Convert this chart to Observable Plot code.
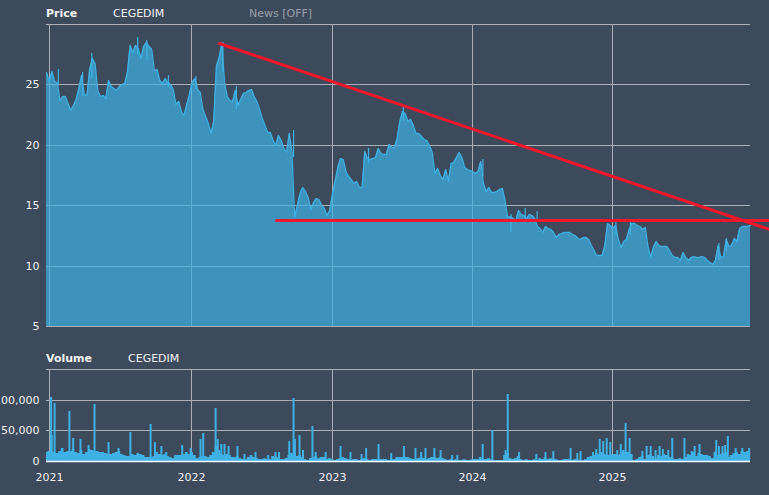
<!DOCTYPE html>
<html><head><meta charset="utf-8">
<script src="https://cdn.jsdelivr.net/npm/d3@7"></script>
<script src="https://cdn.jsdelivr.net/npm/@observablehq/plot@0.6"></script>
<style>
html,body{margin:0;padding:0;background:#3c4a5c;width:769px;height:495px;overflow:hidden}
#wrap{position:relative;width:769px;height:495px;font:11px "DejaVu Sans",sans-serif;color:#f2f2f2}
#wrap svg{display:block}
.t{position:absolute;white-space:nowrap;line-height:14px}
.b{font-weight:bold}
</style></head><body>
<div id="wrap">
<div id="p"></div><div id="v"></div>
<span class="t b" style="left:46px;top:7px">Price</span>
<span class="t" style="left:113px;top:7px">CEGEDIM</span>
<span class="t" style="left:249px;top:7px;color:#98a0a8">News [OFF]</span>
<span class="t b" style="left:46px;top:352px">Volume</span>
<span class="t" style="left:128px;top:352px">CEGEDIM</span>
</div>
<script>
const yearLabels=["2021","2022","2023","2024","2025"];
const yearWeeks=[1.1122,53.757,106.03,157.93,209.84];
const priceTicks=[5,10,15,20,25];
const priceGrid=[5,10,15,20,25,30];
const volumeTicks=[0,50000,100000];
const volumeGrid=[50000,100000,150000];
const priceValues=[
26.0,25.3,26.1,25.3,25.2,23.7,24.0,24.0,23.5,22.9,23.3,23.8,24.7,25.8,24.2,24.1,26.3,27.2,26.8,24.5,
24.0,24.1,23.9,25.4,24.9,24.7,24.5,24.9,25.0,25.1,26.0,28.3,27.7,28.3,28.0,27.2,28.2,28.5,28.2,27.9,
26.2,26.3,25.4,25.1,25.5,25.2,25.0,24.6,23.4,23.6,22.8,22.5,23.4,24.2,25.2,25.5,24.6,24.4,23.0,22.4,
21.8,21.0,22.0,26.5,27.3,28.4,25.2,24.0,23.7,23.6,24.5,23.3,23.8,24.3,24.4,24.5,24.6,24.0,23.6,23.0,
22.2,21.6,21.1,21.1,20.4,20.0,20.8,20.4,19.7,19.4,21.0,19.5,14.0,15.0,16.0,16.5,16.2,15.7,14.7,15.3,
15.6,15.5,15.0,14.8,14.2,14.6,15.9,17.0,18.2,18.9,18.8,17.8,17.4,17.2,16.8,17.0,16.5,16.5,19.5,18.9,
18.8,18.9,19.0,19.7,19.3,19.2,19.2,20.1,19.8,19.8,20.6,22.0,22.8,22.6,22.0,22.1,21.6,21.0,21.0,20.7,
20.5,20.4,20.0,19.4,17.7,18.1,17.5,17.2,18.0,17.0,18.5,18.6,19.0,19.4,19.0,18.2,18.0,17.9,17.8,17.7,
17.8,18.7,16.8,16.2,16.5,16.1,16.1,16.2,16.3,16.4,15.4,14.0,14.1,13.9,13.8,14.6,14.3,14.2,13.9,14.3,
14.2,13.9,13.3,13.1,12.8,13.3,13.1,13.0,12.8,12.4,12.6,12.7,12.8,12.8,12.8,12.6,12.5,12.3,12.2,12.4,
12.4,12.2,11.7,11.3,10.9,10.9,10.9,11.7,13.5,13.4,13.1,13.4,12.2,11.5,12.0,12.2,13.0,13.5,13.5,13.4,
13.3,13.0,13.2,11.6,10.7,11.5,12.0,11.7,11.6,11.6,11.6,11.3,10.9,10.7,10.7,10.5,11.1,10.7,10.5,10.7,
10.8,10.7,10.7,10.8,10.7,10.5,10.3,10.1,10.5,11.7,10.7,10.8,12.2,11.6,11.7,12.3,12.0,13.1,13.3,13.3,
13.3,13.4];
const wickWeeks=[4.4,13.4,16.8,33.8,37.2,45.2,55.4,65.4,70.4,91.6,119.4,132.3,161.8,172.2,177.5,181.9,211.1,216.5,252.1,249.3];
const wickHighs=[26.3,26.0,27.6,28.9,28.7,25.8,25.7,28.5,24.9,21.2,19.7,23.3,18.8,14.3,14.8,14.5,13.7,13.6,12.3,11.9];
const wickLows=[25.0,24.0,25.5,27.5,27.0,24.8,24.6,26.0,23.0,19.0,18.5,22.0,17.4,12.8,13.8,13.6,12.5,12.5,11.2,10.5];
const volumeBase=[
14000,16000,42000,15000,13000,16000,22000,15000,17000,16000,19000,14000,13000,18000,12000,14000,19000,18000,16000,17000,
15000,14000,13000,12000,11000,13000,15000,17000,12000,9000,8000,8000,11000,10000,13000,12000,10000,7000,6000,6000,
8000,14000,12000,10000,11000,8000,6000,5000,9000,10000,9000,11000,14000,11000,15000,9000,5000,7000,8000,8000,
7000,9000,14000,24000,18000,12000,10000,11000,9000,7000,6000,8000,5000,4000,4000,6000,9000,7000,5000,4000,
3000,5000,4000,4000,8000,7000,6000,3000,4000,5000,9000,13000,11000,8000,10000,7000,3000,2000,5000,6000,
8000,5000,7000,6000,4000,5000,3000,2000,3000,5000,7000,5000,3000,2000,3000,4000,2000,3000,5000,3000,
2000,3000,3000,4000,3000,3000,3000,2000,4000,3000,6000,7000,6000,6000,7000,5000,3000,4000,5000,6000,
5000,4000,5000,7000,6000,5000,6000,5000,3000,2000,3000,2000,3000,2000,1000,3000,2000,2000,3000,4000,
3000,6000,4000,3000,5000,4000,2000,2000,1000,2000,9000,13000,5000,4000,5000,8000,3000,2000,3000,2000,
2000,3000,2000,5000,4000,6000,3000,5000,4000,3000,2000,2000,3000,4000,3000,2000,3000,4000,2000,2000,
3000,6000,8000,9000,13000,11000,14000,12000,10000,9000,12000,11000,10000,12000,18000,14000,14000,12000,2000,3000,
6000,8000,4000,9000,11000,8000,5000,10000,8000,12000,9000,7000,6000,4000,3000,5000,4000,7000,12000,9000,
14000,8000,13000,11000,10000,10000,8000,5000,14000,10000,11000,13000,14000,7000,10000,13000,15000,12000,16000,15000,17000,18000];
const spikeWeeks=[1.7,3.0,8.5,9.9,12.6,15.6,17.8,23.0,26.7,31.1,38.6,40.2,42.6,44.4,50.3,53.4,57.1,58.1,62.7,63.5,64.8,66.0,67.5,70.8,73.4,77.5,82.2,84.9,86.2,90.0,91.6,92.1,93.8,95.1,98.6,99.8,103.5,109.0,112.7,116.8,118.5,123.1,
127.8,132.5,136.8,138.9,140.5,143.8,146.1,150.4,152.3,161.7,165.3,170.2,171.0,175.2,181.6,185,187.9,194.3,196.8,198,202.6,203.8,205.1,206.4,207.7,209,211.6,212.9,214.7,216.2,220.9,222.5,224,225.8,227.3,228.5,230.5,232,236.5,239.2,240.3,242.1,248.3,249.3,250.6,251.6,252.6,255.5,258,260.5];
const spikeVolumes=[104000,95000,82000,38000,36000,26000,93000,31000,21000,47000,60000,31000,24000,15000,26000,21000,36000,46000,87000,36000,27000,27000,24000,25000,11000,15000,9000,15000,14000,32000,103000,36000,43000,18000,57000,15000,14000,24000,14000,11000,21000,27000,
13000,24000,21000,14000,22000,22000,18000,9000,9000,27000,50000,18000,110000,14000,11000,14000,17000,22000,13000,17000,15000,20000,36000,32000,37000,31000,18000,27000,62000,37000,16000,24000,24000,18000,24000,20000,18000,38000,37000,16000,25000,27000,34000,24000,24000,26000,40000,22000,22000,22000];
const trendWeeks=[64.1,268.1];
const trendPrices=[28.43,13.05];
const supportWeeks=[85.3,268.1];
const supportPrices=[13.8,13.8];

const GRID="#aab0b5",FILL="#3fb1e4",RED="#f0172a";
const style={fontFamily:"DejaVu Sans",fontSize:"11px",background:"transparent",color:"#f2f2f2",display:"block"};

const price=Plot.plot({
  width:769,height:345,marginTop:24,marginBottom:19,marginLeft:46,marginRight:19,style,
  x:{domain:[0,261],axis:null},y:{domain:[5,30],axis:null,round:true},
  marks:[
    Plot.ruleY(priceGrid,{stroke:GRID,strokeOpacity:1}),
    Plot.ruleX(yearWeeks,{stroke:GRID,strokeOpacity:1}),
    Plot.areaY(priceValues,{x:(d,i)=>i,y1:5,y2:d=>d,fill:FILL,fillOpacity:0.71}),
    Plot.lineY(priceValues,{x:(d,i)=>i,y:d=>d,stroke:FILL,strokeWidth:1.3}),
    Plot.ruleX(wickWeeks.map((w,i)=>({w,h:wickHighs[i],l:wickLows[i]})),{x:"w",y1:"l",y2:"h",stroke:FILL,strokeWidth:1.2}),
    Plot.axisY({ticks:priceTicks,tickSize:0,tickPadding:7,tickFormat:d=>d,label:null}),
    Plot.line(trendWeeks.map((w,i)=>[w,trendPrices[i]]),{stroke:RED,strokeWidth:3}),
    Plot.line(supportWeeks.map((w,i)=>[w,supportPrices[i]]),{stroke:RED,strokeWidth:3})
  ]});
document.getElementById("p").append(price);

const spikes=spikeWeeks.map((w,i)=>({w,v:spikeVolumes[i]}));
const volume=Plot.plot({
  width:769,height:150,marginTop:24,marginBottom:34,marginLeft:46,marginRight:19,style,
  x:{domain:[0,261],axis:null},y:{domain:[0,150000],axis:null,round:true},
  marks:[
    Plot.ruleY(volumeGrid,{stroke:GRID,strokeOpacity:1}),
    Plot.ruleX(yearWeeks,{stroke:GRID,strokeOpacity:1}),
    Plot.areaY(volumeBase,{x:(d,i)=>i,y:d=>d,fill:FILL,curve:"step"}),
    Plot.ruleX(spikes,{x:"w",y1:0,y2:"v",stroke:FILL,strokeWidth:2}),
    Plot.ruleY([0],{stroke:"#ffffff",strokeWidth:1.5}),
    Plot.axisY({ticks:volumeTicks,tickSize:0,tickPadding:7,tickFormat:d3.format(","),label:null}),
    Plot.text(yearWeeks,{x:d=>d,frameAnchor:"bottom",dy:19,text:(d,i)=>yearLabels[i],fill:"#f2f2f2"})
  ]});
document.getElementById("v").append(volume);
</script>
</body></html>
